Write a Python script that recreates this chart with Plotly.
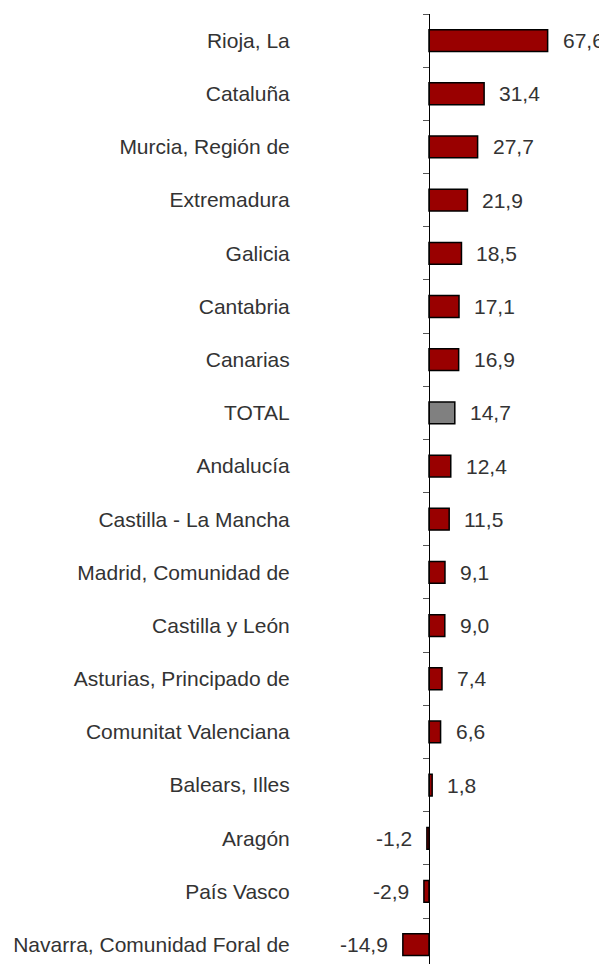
import plotly.graph_objects as go

categories = [
    "Rioja, La", "Cataluña", "Murcia, Región de", "Extremadura", "Galicia",
    "Cantabria", "Canarias", "TOTAL", "Andalucía", "Castilla - La Mancha",
    "Madrid, Comunidad de", "Castilla y León", "Asturias, Principado de",
    "Comunitat Valenciana", "Balears, Illes", "Aragón", "País Vasco",
    "Navarra, Comunidad Foral de",
]
values = [67.6, 31.4, 27.7, 21.9, 18.5, 17.1, 16.9, 14.7, 12.4, 11.5,
          9.1, 9.0, 7.4, 6.6, 1.8, -1.2, -2.9, -14.9]

RED = "#990000"
GRAY = "#808080"
colors = [GRAY if c == "TOTAL" else RED for c in categories]

# page has an 8px body margin, so the figure fills the remaining area
W, H = 599, 956
ZERO_PX = 421
PX_PER_UNIT = 1.755
TOP = 6
STEP = 53.18

x_range = [-ZERO_PX / PX_PER_UNIT, (W - ZERO_PX) / PX_PER_UNIT]
y_bottom = -0.5 + (H - TOP) / STEP

fig = go.Figure(go.Bar(
    x=values, y=categories, orientation="h",
    marker=dict(color=colors, line=dict(color="#000000", width=1.5)),
    width=0.41,
    hoverinfo="x+y",
))

FONT = "Liberation Sans, Arial, sans-serif"
TXT = "#333333"
FS = 21

for c, v in zip(categories, values):
    fig.add_annotation(
        x=v, y=c, xref="x", yref="y",
        text=f"{v:.1f}".replace(".", ","),
        showarrow=False,
        xanchor="left" if v >= 0 else "right",
        xshift=13 if v >= 0 else -13,
        font=dict(family=FONT, size=FS, color=TXT),
    )

fig.update_layout(
    width=W, height=H,
    margin=dict(l=0, r=0, t=TOP, b=0, autoexpand=False),
    paper_bgcolor="white", plot_bgcolor="white",
    showlegend=False,
    font=dict(family=FONT, size=FS, color=TXT),
    xaxis=dict(visible=False, range=x_range, fixedrange=True),
    yaxis=dict(
        type="category",
        categoryorder="array", categoryarray=categories,
        range=[y_bottom, -0.5],
        anchor="free", position=ZERO_PX / W, side="left",
        showline=True, linecolor="#000000", linewidth=1,
        ticks="outside", tickson="boundaries", ticklen=6,
        tickcolor="#555555", tickwidth=1,
        ticklabelstandoff=135,
        showgrid=False, zeroline=False, automargin=False,
        tickfont=dict(family=FONT, size=FS, color=TXT),
    ),
)

fig.write_html("out.html")
